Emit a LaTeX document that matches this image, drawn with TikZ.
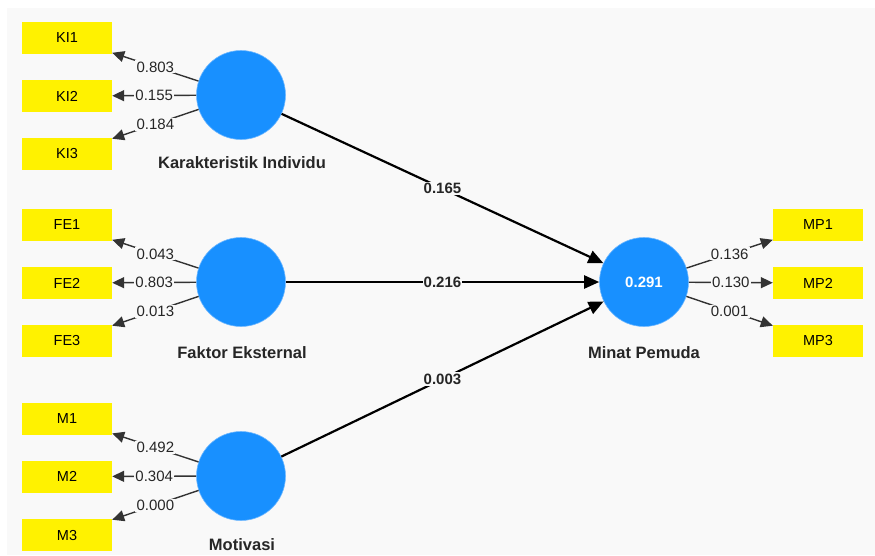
\documentclass[tikz,border=0pt]{standalone}
\usepackage{fontspec}
\setmainfont{Liberation Sans}
\usetikzlibrary{arrows.meta}
\definecolor{bg}{HTML}{F9F9F9}
\definecolor{lv}{HTML}{1890FF}
\definecolor{lvedge}{HTML}{6FB8FF}
\begin{document}
\begin{tikzpicture}[x=1pt,y=-1pt,
  latent/.style={circle, fill=lv, draw=lvedge, line width=0.6pt, minimum size=89pt, inner sep=0pt,
    text=white, font=\fontsize{15}{17}\selectfont\bfseries},
  ind/.style={rectangle, fill=yellow, minimum width=90pt, minimum height=32pt, inner sep=0pt,
    font=\fontsize{14.5}{16}\selectfont},
  loadarrow/.style={draw=black!80, line width=1.4pt, -{Triangle[length=12pt,width=11pt]}},
  patharrow/.style={draw=black, line width=2.2pt, -{Triangle[length=15pt,width=13pt]}},
  lbl/.style={fill=bg, inner sep=1.2pt, text=black!85, font=\fontsize{15}{17}\selectfont},
  plbl/.style={fill=bg, inner sep=1.2pt, text=black!85, font=\fontsize{15}{17}\selectfont\bfseries},
  lvname/.style={text=black!85, font=\fontsize{16.5}{18}\selectfont\bfseries, inner sep=0pt}
]
\useasboundingbox (0,0) rectangle (875,555);
\fill[bg] (7,8) rectangle (875,555);

% latent variables
\node[latent] (KI) at (241,95) {};
\node[latent] (FE) at (241,282) {};
\node[latent] (M) at (241,476) {};
\node[latent] (MP) at (644,282) {0.291};

\node[lvname] (KIn) at (242,163) {Karakteristik Individu};
\node[lvname] (FEn) at (242,353) {Faktor Eksternal};
\node[lvname] (Mn) at (242,545) {Motivasi};
\node[lvname] (MPn) at (644,353) {Minat Pemuda};

% indicators
\node[ind] (KI1) at (67,38) {KI1};
\node[ind] (KI2) at (67,96) {KI2};
\node[ind] (KI3) at (67,154) {KI3};
\node[ind] (FE1) at (67,225) {FE1};
\node[ind] (FE2) at (67,283) {FE2};
\node[ind] (FE3) at (67,341) {FE3};
\node[ind] (M1) at (67,418.5) {M1};
\node[ind] (M2) at (67,476.5) {M2};
\node[ind] (M3) at (67,535) {M3};
\node[ind] (MP1) at (818,225) {MP1};
\node[ind] (MP2) at (818,283) {MP2};
\node[ind] (MP3) at (818,341) {MP3};

% outer loadings
\draw[loadarrow] (KI) -- node[lbl] {0.803} (KI1);
\draw[loadarrow] (KI) -- node[lbl] {0.155} (KI2);
\draw[loadarrow] (KI) -- node[lbl] {0.184} (KI3);
\draw[loadarrow] (FE) -- node[lbl] {0.043} (FE1);
\draw[loadarrow] (FE) -- node[lbl] {0.803} (FE2);
\draw[loadarrow] (FE) -- node[lbl] {0.013} (FE3);
\draw[loadarrow] (M) -- node[lbl] {0.492} (M1);
\draw[loadarrow] (M) -- node[lbl] {0.304} (M2);
\draw[loadarrow] (M) -- node[lbl] {0.000} (M3);
\draw[loadarrow] (MP) -- node[lbl] {0.136} (MP1);
\draw[loadarrow] (MP) -- node[lbl] {0.130} (MP2);
\draw[loadarrow] (MP) -- node[lbl] {0.001} (MP3);

% structural paths
\draw[patharrow] (KI) -- node[plbl] {0.165} (MP);
\draw[patharrow] (FE) -- node[plbl] {0.216} (MP);
\draw[patharrow] (M) -- node[plbl] {0.003} (MP);
\end{tikzpicture}
\end{document}
